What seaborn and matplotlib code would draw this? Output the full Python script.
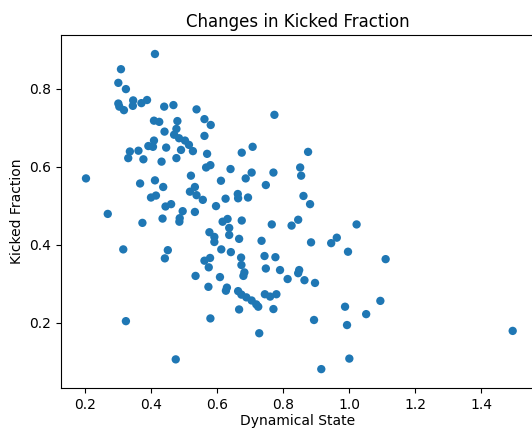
import matplotlib
matplotlib.use("Agg")
import matplotlib.pyplot as plt
import seaborn as sns
import pandas as pd

dynamical_state = [
    0.412, 0.309, 0.301, 0.324, 0.301, 0.304, 0.318, 0.346, 0.345, 0.371,
    0.388, 0.440, 0.468, 0.538, 0.409, 0.425, 0.480, 0.562, 0.581, 0.477,
    0.441, 0.470, 0.485, 0.503, 0.515, 0.527, 0.562, 0.409, 0.392, 0.406,
    0.446, 0.491, 0.336, 0.362, 0.331, 0.377, 0.432, 0.477, 0.570, 0.675,
    0.708, 0.774, 0.876, 0.203, 0.367, 0.412, 0.437, 0.400, 0.415, 0.444,
    0.461, 0.496, 0.487, 0.486, 0.533, 0.521, 0.533, 0.518, 0.538, 0.557,
    0.567, 0.580, 0.612, 0.641, 0.687, 0.705, 0.597, 0.626, 0.663, 0.664,
    0.694, 0.675, 0.632, 0.617, 0.637, 0.637, 0.269, 0.374, 0.435, 0.577,
    0.592, 0.592, 0.667, 0.613, 0.642, 0.735, 0.316, 0.451, 0.442, 0.562,
    0.579, 0.575, 0.673, 0.674, 0.683, 0.680, 0.852, 0.855, 0.771, 0.748,
    0.862, 0.882, 0.766, 0.826, 0.846, 1.023, 0.885, 0.946, 0.963, 0.997,
    1.111, 0.744, 0.777, 0.748, 0.791, 0.814, 0.849, 0.846, 0.865, 0.897,
    0.535, 0.609, 0.574, 0.630, 0.627, 0.664, 0.674, 0.689, 0.705, 0.719,
    0.725, 0.745, 0.761, 0.780, 0.667, 0.771, 0.324, 0.580, 0.728, 0.894,
    0.988, 0.994, 1.052, 1.095, 1.001, 0.916, 0.475, 1.496,
]

kicked_fraction = [
    0.889, 0.850, 0.815, 0.799, 0.762, 0.754, 0.745, 0.770, 0.756, 0.763,
    0.771, 0.754, 0.758, 0.747, 0.718, 0.715, 0.717, 0.722, 0.707, 0.697,
    0.690, 0.682, 0.673, 0.667, 0.656, 0.640, 0.679, 0.667, 0.653, 0.651,
    0.649, 0.643, 0.639, 0.641, 0.622, 0.619, 0.613, 0.622, 0.633, 0.636,
    0.651, 0.733, 0.638, 0.570, 0.557, 0.565, 0.548, 0.521, 0.526, 0.498,
    0.504, 0.486, 0.468, 0.459, 0.484, 0.577, 0.548, 0.536, 0.527, 0.515,
    0.598, 0.604, 0.564, 0.594, 0.570, 0.585, 0.499, 0.518, 0.530, 0.519,
    0.521, 0.462, 0.466, 0.459, 0.443, 0.425, 0.479, 0.456, 0.467, 0.432,
    0.420, 0.407, 0.415, 0.388, 0.381, 0.410, 0.388, 0.386, 0.365, 0.359,
    0.366, 0.342, 0.367, 0.348, 0.329, 0.320, 0.598, 0.577, 0.585, 0.553,
    0.525, 0.504, 0.452, 0.449, 0.464, 0.452, 0.406, 0.404, 0.418, 0.382,
    0.363, 0.371, 0.368, 0.339, 0.335, 0.312, 0.335, 0.327, 0.309, 0.302,
    0.320, 0.317, 0.292, 0.290, 0.282, 0.281, 0.272, 0.265, 0.257, 0.247,
    0.241, 0.273, 0.267, 0.273, 0.234, 0.235, 0.204, 0.211, 0.173, 0.207,
    0.241, 0.194, 0.222, 0.256, 0.108, 0.081, 0.106, 0.179,
]

df = pd.DataFrame({"Dynamical State": dynamical_state,
                   "Kicked Fraction": kicked_fraction})

fig = plt.figure(figsize=(5.32, 4.28), dpi=100)
ax = fig.add_axes([61 / 532, 40 / 428, 474 / 532, 353 / 428])

sns.scatterplot(data=df, x="Dynamical State", y="Kicked Fraction", ax=ax,
                color="#1f77b4", s=36, linewidth=0, edgecolor="none")

ax.set_xlim(0.1273, 1.5636)
ax.set_ylim(0.0326, 0.9377)
ax.set_xticks([0.2, 0.4, 0.6, 0.8, 1.0, 1.2, 1.4])
ax.set_yticks([0.2, 0.4, 0.6, 0.8])
ax.set_title("Changes in Kicked Fraction", fontsize=12)
ax.set_xlabel("Dynamical State", labelpad=1.5)
ax.set_ylabel("Kicked Fraction")

fig.savefig("out.png", dpi=100)
